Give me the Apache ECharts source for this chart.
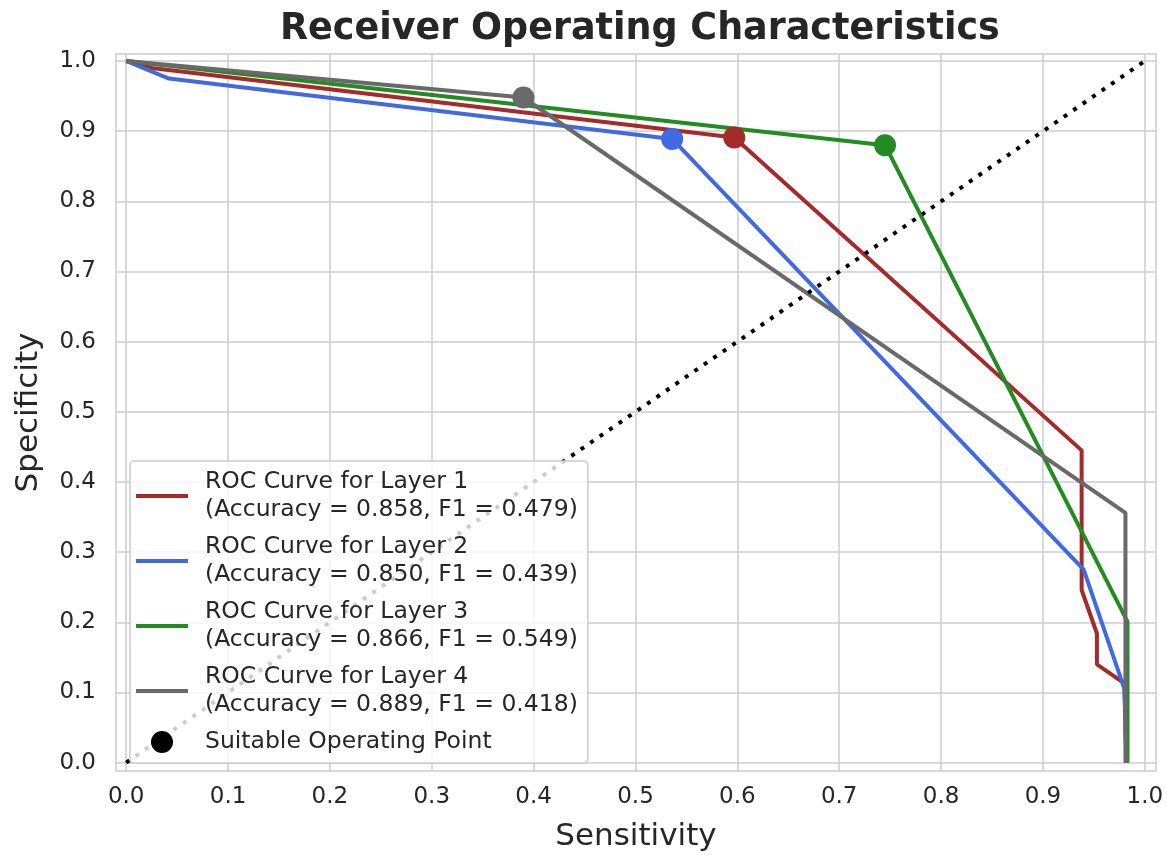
<!DOCTYPE html>
<html>
<head>
<meta charset="utf-8">
<script src="https://cdn.jsdelivr.net/npm/echarts@6/dist/echarts.min.js"></script>
<style>
html, body { margin: 0; padding: 0; background: #fff; }
#container { width: 1167px; height: 857px; }
</style>
</head>
<body>
<div id="container"></div>
<script>
// ROC points per layer: [sensitivity, specificity]
var layer1 = [[0, 1], [0.025, 0.99], [0.597, 0.891], [0.938, 0.445], [0.938, 0.246], [0.953, 0.184], [0.953, 0.140], [0.980, 0.113], [0.982, 0]];
var layer2 = [[0, 1], [0.042, 0.975], [0.536, 0.889], [0.940, 0.275], [0.980, 0.105], [0.982, 0]];
var layer3 = [[0, 1], [0.745, 0.880], [0.983, 0.201], [0.983, 0]];
var layer4 = [[0, 1], [0.390, 0.948], [0.981, 0.356], [0.981, 0]];
var chance = [[0, 0], [1, 1]];

// suitable operating points, one per layer
var opX = [0.597, 0.536, 0.745, 0.390];
var opY = [0.891, 0.889, 0.880, 0.948];

var accuracy = ["0.858", "0.850", "0.866", "0.889"];
var f1 = ["0.479", "0.439", "0.549", "0.418"];
var tickValues = [0, 0.1, 0.2, 0.3, 0.4, 0.5, 0.6, 0.7, 0.8, 0.9, 1.0];

var colors = ["#a52a2a", "#4169e1", "#228b22", "#696969"];
var layers = [layer1, layer2, layer3, layer4];
var font = "DejaVu Sans";
var textColor = "#262626";

var names = accuracy.map(function (a, i) {
    return "ROC Curve for Layer " + (i + 1) + "\n(Accuracy = " + a + ", F1 = " + f1[i] + ")";
});

var dom = document.getElementById("container");
var myChart = echarts.init(dom, null, { renderer: "canvas" });

var series = layers.map(function (d, i) {
    return {
        name: names[i],
        type: "line",
        data: d,
        symbol: "none",
        z: 2,
        lineStyle: { color: colors[i], width: 4 },
        itemStyle: { color: colors[i] }
    };
});

series.push({
    name: "chance",
    type: "line",
    data: chance,
    symbol: "none",
    z: 2,
    lineStyle: { color: "#000", width: 4, type: [4, 7.5] }
});

series.push({
    name: "Suitable Operating Point",
    type: "scatter",
    symbol: "circle",
    symbolSize: 22,
    z: 3,
    itemStyle: { color: "#000", opacity: 1 },
    data: opX.map(function (x, i) {
        return { value: [x, opY[i]], itemStyle: { color: colors[i] } };
    })
});

var axisCommon = {
    type: "value",
    axisLine: { show: false },
    axisTick: { show: false, customValues: tickValues },
    splitLine: { show: true, lineStyle: { color: "#cccccc", width: 1.5 } },
    nameLocation: "middle",
    nameTextStyle: { fontFamily: font, fontSize: 31, color: textColor },
    axisLabel: {
        customValues: tickValues,
        fontFamily: font,
        fontSize: 23,
        color: textColor,
        formatter: function (v) { return v.toFixed(1); }
    }
};

var lineIcon = "path://M0,0L52,0L52,4L0,4Z";
var legendData = names.map(function (n) {
    return { name: n, icon: lineIcon };
});
legendData.push({ name: "Suitable Operating Point", icon: "circle" });

var option = {
    backgroundColor: "#ffffff",
    animation: false,
    title: {
        text: "Receiver Operating Characteristics",
        left: 275,
        top: 6,
        textStyle: { fontFamily: font, fontSize: 36.5, fontWeight: "bold", color: textColor }
    },
    grid: {
        show: true,
        left: 116,
        right: 11,
        top: 54,
        bottom: 82,
        borderColor: "#cccccc",
        borderWidth: 1.5,
        backgroundColor: "#ffffff"
    },
    legend: {
        orient: "vertical",
        left: 130,
        bottom: 94,
        itemWidth: 52,
        itemHeight: 22,
        itemGap: 9,
        padding: [7, 10, 7, 6],
        backgroundColor: "rgba(255,255,255,0.8)",
        borderColor: "#cccccc",
        borderWidth: 1.5,
        borderRadius: 4,
        textStyle: { fontFamily: font, fontSize: 23.5, lineHeight: 28, color: textColor, padding: [0, 0, 0, 12] },
        data: legendData
    },
    xAxis: Object.assign({}, axisCommon, {
        min: -0.01,
        max: 1.011,
        name: "Sensitivity",
        nameGap: 50,
        axisLabel: Object.assign({}, axisCommon.axisLabel, { margin: 15 })
    }),
    yAxis: Object.assign({}, axisCommon, {
        min: -0.012,
        max: 1.01,
        name: "Specificity",
        nameGap: 72,
        axisLabel: Object.assign({}, axisCommon.axisLabel, { margin: 20 })
    }),
    series: series
};

myChart.setOption(option);
window.addEventListener("resize", myChart.resize);
</script>
</body>
</html>
